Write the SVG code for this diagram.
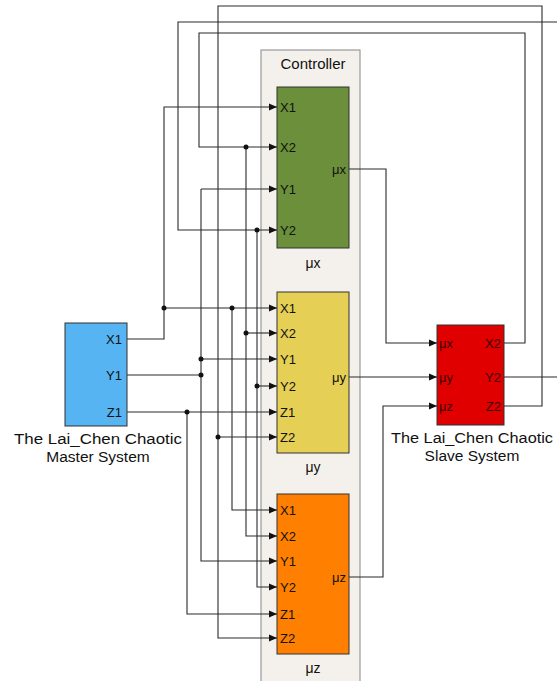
<svg xmlns="http://www.w3.org/2000/svg" width="557" height="681" viewBox="0 0 557 681">
<defs>
<marker id="ar" viewBox="0 0 8 8" refX="8" refY="4" markerWidth="8" markerHeight="8" markerUnits="userSpaceOnUse" orient="auto">
<path d="M0,0.5 L8,4 L0,7.5 Z" fill="#111"/>
</marker>
<style>
text{font-family:"Liberation Sans",Arial,sans-serif;fill:#111}
.w{fill:none;stroke:#2a2a2a;stroke-width:1.1}
.a{marker-end:url(#ar)}
.d{fill:#111}
.blk{stroke:#333;stroke-width:1}
.p{font-size:13px}
.pr{font-size:13px;text-anchor:end}
.cap{font-size:15.5px;text-anchor:middle}
.lb{font-size:14px;text-anchor:middle}
.sl{font-size:13px;fill:#3a0000}
</style>
</defs>
<rect width="557" height="681" fill="#fff"/>

<g id="controller">
<rect x="261" y="50" width="99" height="640" fill="#f4f1ec" stroke="#9a9a9a" stroke-width="1.2"/>
<text x="313" y="69" text-anchor="middle" style="font-size:15px">Controller</text>
</g>

<g id="connectors">
<polyline class="w a" points="127,339 164,339 164,107 277,107"/>
<polyline class="w a" points="164,308 277,308"/>
<polyline class="w a" points="232,308 232,510 277,510"/>
<polyline class="w" points="127,375 201,375"/>
<polyline class="w a" points="201,189 277,189"/>
<polyline class="w a" points="201,189 201,561 277,561"/>
<polyline class="w a" points="201,359 277,359"/>
<polyline class="w a" points="127,412 277,412"/>
<polyline class="w a" points="187,412 187,614 277,614"/>
<polyline class="w a" points="504,343 525,343 525,33 199,33 199,147 277,147"/>
<polyline class="w a" points="246,147 246,536 277,536"/>
<polyline class="w a" points="246,333 277,333"/>
<polyline class="w" points="504,377 560,377"/>
<polyline class="w a" points="560,22 178,22 178,230 277,230"/>
<polyline class="w a" points="257,230 257,587 277,587"/>
<polyline class="w a" points="257,386 277,386"/>
<polyline class="w a" points="504,406 542,406 542,6 218,6 218,638 277,638"/>
<polyline class="w a" points="218,437 277,437"/>
<polyline class="w a" points="349,169 386,169 386,343 437,343"/>
<polyline class="w a" points="349,377 437,377"/>
<polyline class="w a" points="349,577 383,577 383,406 437,406"/>
<circle class="d" cx="164" cy="308" r="2.5"/>
<circle class="d" cx="232" cy="308" r="2.5"/>
<circle class="d" cx="201" cy="375" r="2.5"/>
<circle class="d" cx="201" cy="359" r="2.5"/>
<circle class="d" cx="187" cy="412" r="2.5"/>
<circle class="d" cx="246" cy="147" r="2.5"/>
<circle class="d" cx="246" cy="333" r="2.5"/>
<circle class="d" cx="257" cy="230" r="2.5"/>
<circle class="d" cx="257" cy="386" r="2.5"/>
<circle class="d" cx="218" cy="437" r="2.5"/>
</g>

<g id="mux">
<rect class="blk" x="277" y="87" width="72" height="161" fill="#6b8f3a"/>
<text class="p" x="280" y="111.5">X1</text>
<text class="p" x="280" y="151.5">X2</text>
<text class="p" x="280" y="193.5">Y1</text>
<text class="p" x="280" y="234.5">Y2</text>
<text class="pr" x="346" y="173.5">μx</text>
<text class="lb" x="313" y="268">μx</text>
</g>

<g id="muy">
<rect class="blk" x="277" y="292" width="72" height="161" fill="#e6cf55"/>
<text class="p" x="280" y="312.5">X1</text>
<text class="p" x="280" y="337.5">X2</text>
<text class="p" x="280" y="363.5">Y1</text>
<text class="p" x="280" y="390.5">Y2</text>
<text class="p" x="280" y="416.5">Z1</text>
<text class="p" x="280" y="441.5">Z2</text>
<text class="pr" x="346" y="381.5">μy</text>
<text class="lb" x="313" y="472">μy</text>
</g>

<g id="muz">
<rect class="blk" x="277" y="494" width="72" height="160" fill="#ff8000"/>
<text class="p" x="280" y="514.5">X1</text>
<text class="p" x="280" y="540.5">X2</text>
<text class="p" x="280" y="565.5">Y1</text>
<text class="p" x="280" y="591.5">Y2</text>
<text class="p" x="280" y="618.5">Z1</text>
<text class="p" x="280" y="642.5">Z2</text>
<text class="pr" x="346" y="581.5">μz</text>
<text class="lb" x="313" y="673">μz</text>
</g>

<g id="master">
<rect class="blk" x="65" y="323" width="62" height="103" fill="#57b4f2"/>
<text class="pr" x="122" y="343.5">X1</text>
<text class="pr" x="122" y="379.5">Y1</text>
<text class="pr" x="122" y="416.5">Z1</text>
<text class="cap" x="98" y="444" textLength="168" lengthAdjust="spacingAndGlyphs">The Lai_Chen Chaotic</text>
<text class="cap" x="98" y="462">Master System</text>
</g>

<g id="slave">
<rect class="blk" x="437" y="325" width="67" height="100" fill="#e00000"/>
<text class="sl" x="439" y="347.5">μx</text>
<text class="sl" x="439" y="381.5">μy</text>
<text class="sl" x="439" y="410.5">μz</text>
<text class="sl" x="501" y="347.5" text-anchor="end">X2</text>
<text class="sl" x="501" y="381.5" text-anchor="end">Y2</text>
<text class="sl" x="501" y="410.5" text-anchor="end">Z2</text>
<text class="cap" x="472" y="443" textLength="162" lengthAdjust="spacingAndGlyphs">The Lai_Chen Chaotic</text>
<text class="cap" x="472" y="461">Slave System</text>
</g>
</svg>
